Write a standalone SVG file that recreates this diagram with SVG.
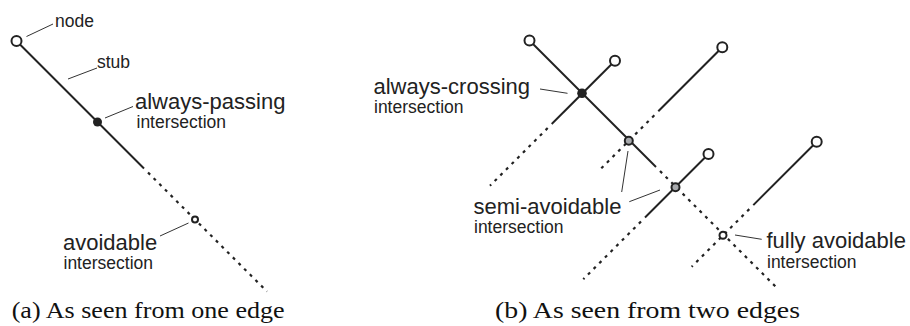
<svg xmlns="http://www.w3.org/2000/svg" width="910" height="326" viewBox="0 0 910 326">
<style>
.solid{stroke:#222;stroke-width:2;fill:none;stroke-linecap:butt}
.dot{stroke:#222;stroke-width:2.2;fill:none;stroke-dasharray:3 5}
.lead{stroke:#333;stroke-width:1;fill:none}
.node{fill:#fff;stroke:#222;stroke-width:2}
.big{font-family:"Liberation Sans",Arial,sans-serif;font-size:22px;fill:#222}
.small{font-family:"Liberation Sans",Arial,sans-serif;font-size:17.5px;fill:#222}
.cap{font-family:"Liberation Serif","Times New Roman",serif;font-size:22.5px;fill:#111}
</style>
<rect width="910" height="326" fill="#fff"/>
<g id="connectors">
  <path class="solid" d="M20,44.5 L144,168.5"/>
  <path class="dot" d="M148,172.5 L267,291.5"/>
  <path class="solid" d="M533,44 L656,167"/>
  <path class="dot" d="M660,171 L778.5,289.5"/>
  <path class="solid" d="M611.5,64.2 L551.7,124"/>
  <path class="dot" d="M547.7,128 L490,185.7"/>
  <path class="solid" d="M718.8,50.8 L658.3,111.3"/>
  <path class="dot" d="M654.3,115.3 L598,171.6"/>
  <path class="solid" d="M705,157.5 L645,217.5"/>
  <path class="dot" d="M641,221.5 L583.3,279.2"/>
  <path class="solid" d="M813.2,145.2 L753.3,205.1"/>
  <path class="dot" d="M749.3,209.1 L691.7,266.7"/>
  <path class="lead" d="M26.5,36.5 L53,24"/>
  <path class="lead" d="M68,79 L97,68"/>
  <path class="lead" d="M105,118 L133,106.5"/>
  <path class="lead" d="M160,236 L188.5,223"/>
  <path class="lead" d="M540,89 L567.5,93.3"/>
  <path class="lead" d="M628,151 L621.7,192"/>
  <path class="lead" d="M629.3,201.7 L660,190"/>
  <path class="lead" d="M735,235 L761.7,239.3"/>
</g>
<g id="node-a"><circle class="node" cx="16.5" cy="41" r="5"/></g>
<g id="int-a-passing"><circle cx="97.5" cy="122" r="4.5" fill="#222"/></g>
<g id="int-a-avoidable"><circle cx="195" cy="219.5" r="3" fill="#fff" stroke="#222" stroke-width="2"/></g>
<g id="node-b1"><circle class="node" cx="529.5" cy="40.5" r="5"/></g>
<g id="node-b2"><circle class="node" cx="615" cy="60.7" r="5"/></g>
<g id="node-b3"><circle class="node" cx="722.3" cy="47.3" r="5"/></g>
<g id="node-b4"><circle class="node" cx="708.5" cy="154" r="5"/></g>
<g id="node-b5"><circle class="node" cx="816.7" cy="141.7" r="5"/></g>
<g id="int-b-crossing"><circle cx="582" cy="93.3" r="4.8" fill="#222"/></g>
<g id="int-b-semi1"><circle cx="628.8" cy="140.8" r="4" fill="#a7a9ac" stroke="#222" stroke-width="2"/></g>
<g id="int-b-semi2"><circle cx="675.5" cy="187.2" r="4" fill="#a7a9ac" stroke="#222" stroke-width="2"/></g>
<g id="int-b-fully"><circle cx="723" cy="235.2" r="3.5" fill="#fff" stroke="#222" stroke-width="2"/></g>
<g id="labels">
  <text class="small" x="55" y="26.5">node</text>
  <text class="small" x="97" y="68">stub</text>
  <text class="big" x="135" y="108.5">always-passing</text>
  <text class="small" x="136.5" y="128">intersection</text>
  <text class="big" x="63" y="249.5">avoidable</text>
  <text class="small" x="63.5" y="268.5">intersection</text>
  <text class="big" x="373.5" y="93.5">always-crossing</text>
  <text class="small" x="374" y="112.5">intersection</text>
  <text class="big" x="473.5" y="213.5">semi-avoidable</text>
  <text class="small" x="474" y="233">intersection</text>
  <text class="big" x="766.5" y="247.5">fully avoidable</text>
  <text class="small" x="767" y="268">intersection</text>
  <text class="cap" x="11.7" y="318" textLength="273" lengthAdjust="spacingAndGlyphs">(a) As seen from one edge</text>
  <text class="cap" x="495" y="318" textLength="305" lengthAdjust="spacingAndGlyphs">(b) As seen from two edges</text>
</g>
</svg>
